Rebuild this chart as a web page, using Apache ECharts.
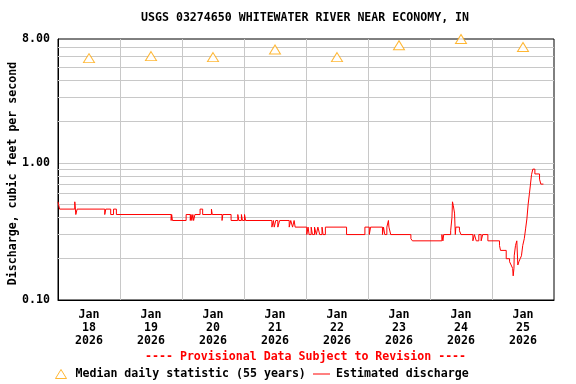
<!DOCTYPE html>
<html><head><meta charset="utf-8">
<script src="https://cdn.jsdelivr.net/npm/echarts@6/dist/echarts.min.js"></script>
<style>html,body{margin:0;padding:0;background:#fff}#c{width:576px;height:384px}</style>
</head><body><div id="c"></div>
<script>
// ---- data ----
const titleText = 'USGS 03274650 WHITEWATER RIVER NEAR ECONOMY, IN';
const noteText = '---- Provisional Data Subject to Revision ----';
const yAxisTitle = 'Discharge, cubic feet per second';
const monthLabel = 'Jan';
const yearLabel = '2026';
const dayLabels = ['18', '19', '20', '21', '22', '23', '24', '25'];
// hours since Jan 18 2026 00:00
const medianHours = [12, 36, 60, 84, 108, 132, 156, 180];
const medianValues = [5.8, 6.0, 5.9, 6.7, 5.9, 7.2, 8.0, 7.0];
const flowHours = [
  0, 0.6, 6.5, 6.9, 7.4, 18.1, 18.5, 20.4, 21.5, 22.6,
  43.8, 44.0, 44.3, 49.6, 51.2, 51.5, 51.8, 52.2, 52.5, 53.0,
  55.0, 56.0, 59.4, 59.7, 63.5, 63.8, 67.0, 69.6, 70.0, 71.0,
  71.4, 72.2, 72.6, 82.8, 83.4, 83.7, 84.3, 85.1, 85.8, 89.5,
  90.1, 90.8, 91.4, 91.8, 96.3, 96.8, 97.2, 98.0, 98.5, 99.3,
  100.0, 100.6, 101.3, 102.2, 102.6, 103.5, 111.7, 118.8, 120.5, 121.0,
  125.6, 126.0, 126.5, 127.3, 127.9, 128.1, 128.8, 136.6, 137.2, 148.6,
  149.0, 149.3, 152.0, 152.5, 152.7, 153.0, 153.5, 153.8, 154.0, 155.4,
  156.0, 160.6, 161.2, 161.9, 162.9, 163.8, 164.4, 166.4, 170.9, 171.3,
  173.5, 174.8, 175.4, 176.0, 176.2, 176.5, 176.6, 177.1, 177.6, 178.0,
  178.4, 178.9, 179.4, 179.9, 180.5, 181.0, 181.5, 182.0, 182.5, 182.9,
  183.3, 183.8, 184.6, 186.4, 186.9, 187.9
];
const flowValues = [
  0.52, 0.46, 0.52, 0.42, 0.46, 0.42, 0.46, 0.42, 0.46, 0.42,
  0.38, 0.42, 0.38, 0.42, 0.38, 0.42, 0.38, 0.42, 0.38, 0.42,
  0.46, 0.42, 0.46, 0.42, 0.38, 0.42, 0.38, 0.42, 0.38, 0.42,
  0.38, 0.42, 0.38, 0.34, 0.38, 0.34, 0.38, 0.34, 0.38, 0.34,
  0.38, 0.34, 0.38, 0.34, 0.30, 0.34, 0.30, 0.34, 0.30, 0.34,
  0.30, 0.34, 0.30, 0.34, 0.30, 0.34, 0.30, 0.34, 0.30, 0.34,
  0.30, 0.34, 0.30, 0.34, 0.38, 0.34, 0.30, 0.28, 0.27, 0.30,
  0.27, 0.30, 0.32, 0.40, 0.52, 0.49, 0.43, 0.30, 0.34, 0.32,
  0.30, 0.27, 0.30, 0.27, 0.30, 0.27, 0.30, 0.27, 0.25, 0.23,
  0.20, 0.19, 0.18, 0.17, 0.15, 0.17, 0.21, 0.25, 0.27, 0.18,
  0.19, 0.20, 0.21, 0.25, 0.28, 0.33, 0.39, 0.50, 0.60, 0.70,
  0.82, 0.90, 0.83, 0.76, 0.70, 0.70
];
const yMinorGrid = [0.2, 0.3, 0.4, 0.5, 0.6, 0.7, 0.8, 0.9, 2, 3, 4, 5, 6, 7];
const xMin = 0, xMax = 192;
const yMin = 0.1, yMax = 8;

// ---- chart ----
const FONT = "'DejaVu Sans Mono', monospace";
const txt = {fontFamily: FONT, fontWeight: 'bold', fontSize: 11.6, color: '#000'};
const GRID = '#c8c8c8';
const chart = echarts.init(document.getElementById('c'), null, {renderer: 'canvas'});
chart.setOption({
  animation: false,
  backgroundColor: '#fff',
  title: [
    {text: titleText, left: 141, top: 12, padding: 0, textStyle: Object.assign({}, txt)},
    {text: noteText, left: 145, top: 351, padding: 0, textStyle: Object.assign({}, txt, {color: '#ff0000'})}
  ],
  legend: [
    {data: ['Median daily statistic (55 years)'], left: 55, top: 368, padding: 0,
     itemWidth: 11, itemHeight: 9, icon: 'triangle',
     itemStyle: {color: '#fff', borderColor: '#ffa500', borderWidth: 1},
     textStyle: Object.assign({}, txt, {padding: [0, 0, 0, 4]})},
    {data: [{name: 'Estimated discharge', icon: 'path://M0,0 L17,0 L17,1 L0,1 Z'}], left: 313, top: 368, padding: 0,
     itemWidth: 17, itemHeight: 9, symbolKeepAspect: true,
     itemStyle: {color: '#ff0000', borderWidth: 0},
     textStyle: Object.assign({}, txt, {padding: [0, 0, 0, 1]})}
  ],
  grid: {left: 58, top: 39, width: 496, height: 261, outerBoundsMode: 'none', containLabel: false,
         show: true, borderColor: '#000', borderWidth: 1, backgroundColor: '#fff'},
  xAxis: [
    {type: 'value', min: xMin, max: xMax, interval: 24,
     axisLine: {show: true, lineStyle: {color: '#000', width: 1}},
     axisTick: {show: false}, axisLabel: {show: false},
     splitLine: {show: true, showMinLine: false, showMaxLine: false, lineStyle: {color: GRID, width: 1}}},
    {type: 'value', min: xMin, max: xMax, interval: 12, position: 'bottom',
     axisLine: {show: false}, axisTick: {show: false}, splitLine: {show: false},
     axisLabel: Object.assign({}, txt, {margin: 8, lineHeight: 13, showMinLabel: true, showMaxLabel: true,
       formatter: function (v) {
         if (v % 24 !== 12) return '';
         const i = (v - 12) / 24;
         return monthLabel + '\n' + dayLabels[i] + '\n' + yearLabel;
       }})}
  ],
  yAxis: {
    type: 'log', logBase: 10, min: yMin, max: yMax,
    name: yAxisTitle, nameLocation: 'middle', nameGap: 39, nameRotate: 90, nameMoveOverlap: false,
    nameTextStyle: Object.assign({}, txt, {padding: [0, 8, 0, 0]}),
    axisLine: {show: true, lineStyle: {color: '#000', width: 1}},
    axisTick: {show: false},
    axisLabel: Object.assign({}, txt, {margin: 8, showMinLabel: true, showMaxLabel: true,
      formatter: function (v) { return Number(v).toFixed(2); }}),
    splitLine: {show: true, showMinLine: false, showMaxLine: false, lineStyle: {color: GRID, width: 1}}
  },
  series: [
    {name: 'minorGrid', type: 'line', data: [], silent: true, z: 1,
     markLine: {silent: true, z: 1, symbol: 'none', label: {show: false}, animation: false,
       lineStyle: {color: GRID, width: 1, type: 'solid'},
       emphasis: {disabled: true},
       data: yMinorGrid.map(v => ({yAxis: v}))}},
    {name: 'Estimated discharge', type: 'line', step: 'end', showSymbol: false, symbol: 'none', z: 4,
     lineStyle: {color: '#ff0000', width: 1}, itemStyle: {color: '#ff0000'},
     data: flowHours.map((h, i) => [h, flowValues[i]])},
    {name: 'Median daily statistic (55 years)', type: 'scatter', symbol: 'triangle', symbolSize: [11, 9], z: 5,
     clip: false,
     itemStyle: {color: '#fff', borderColor: '#ffa500', borderWidth: 1},
     data: medianHours.map((h, i) => [h, medianValues[i]])}
  ]
});
</script></body></html>
